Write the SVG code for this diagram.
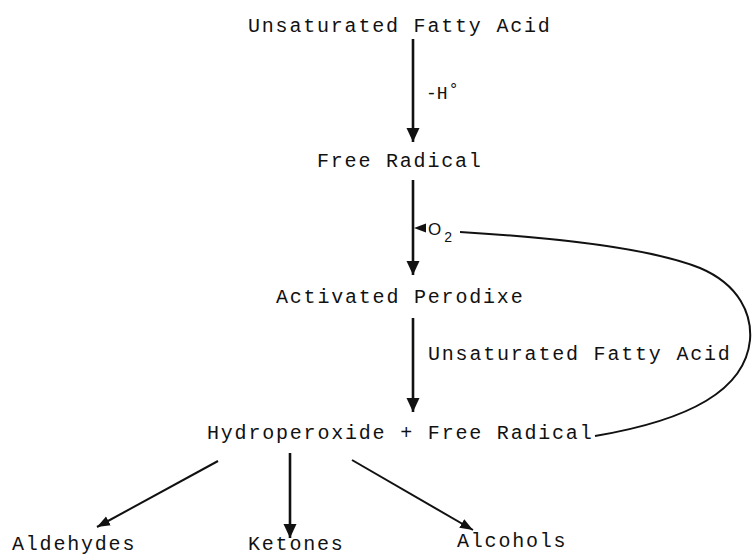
<svg xmlns="http://www.w3.org/2000/svg" width="752" height="555" viewBox="0 0 752 555">
<style>
.t{font-family:"Liberation Mono","DejaVu Sans Mono",monospace;font-size:20px;letter-spacing:1.8px;fill:#111}
.s{font-family:"Liberation Mono","DejaVu Sans Mono",monospace;font-size:18px;fill:#111}
.o{font-family:"Liberation Sans",Arial,sans-serif;fill:#111}
.ln{stroke:#111;stroke-width:2.6;fill:none}
.th{stroke:#111;stroke-width:2;fill:none}
</style>
<defs>
<marker id="ah" markerUnits="userSpaceOnUse" markerWidth="14" markerHeight="16" refX="14" refY="6.5" orient="auto" viewBox="0 0 14 13">
<path d="M0,0 L14,6.5 L0,13 Z" fill="#111"/>
</marker>
<marker id="as" markerUnits="userSpaceOnUse" markerWidth="13" markerHeight="11" refX="13" refY="5" orient="auto" viewBox="0 0 13 10">
<path d="M0,0 L13,5 L0,10 Z" fill="#111"/>
</marker>
</defs>
<rect width="752" height="555" fill="#fff"/>
<g id="n-ufa"><text class="t" x="248" y="32">Unsaturated Fatty Acid</text></g>
<g id="n-fr"><text class="t" x="317" y="167">Free Radical</text></g>
<g id="n-ap"><text class="t" x="276" y="303">Activated Perodixe</text></g>
<g id="n-hp"><text class="t" x="207" y="439">Hydroperoxide + Free Radical</text></g>
<g id="n-ald"><text class="t" x="12" y="550">Aldehydes</text></g>
<g id="n-ket"><text class="t" x="248" y="550">Ketones</text></g>
<g id="n-alc"><text class="t" x="457" y="547">Alcohols</text></g>
<g id="connectors">
<line class="ln" x1="413" y1="39" x2="413" y2="142" marker-end="url(#ah)"/>
<text class="s" x="426" y="99">-H<tspan dx="1" dy="-5" font-size="17">°</tspan></text>
<line class="ln" x1="413" y1="180" x2="413" y2="275" marker-end="url(#ah)"/>
<path d="M414,228 L426,223.5 L426,232.5 Z" fill="#111"/>
<text class="o" x="428" y="235" font-size="17">O<tspan dx="3" dy="7" font-size="14">2</tspan></text>
<path class="th" d="M460,232 C560,238 650,248 700,268 C740,285 752,315 750,340 C745,390 690,420 595,436"/>
<line class="ln" x1="413" y1="318" x2="413" y2="412" marker-end="url(#ah)"/>
<text class="t" x="428" y="360">Unsaturated Fatty Acid</text>
<line class="th" x1="218" y1="461" x2="97" y2="527" marker-end="url(#as)"/>
<line class="ln" x1="290" y1="453" x2="290" y2="538" marker-end="url(#ah)"/>
<line class="th" x1="352" y1="460" x2="473" y2="530" marker-end="url(#as)"/>
</g>
</svg>
